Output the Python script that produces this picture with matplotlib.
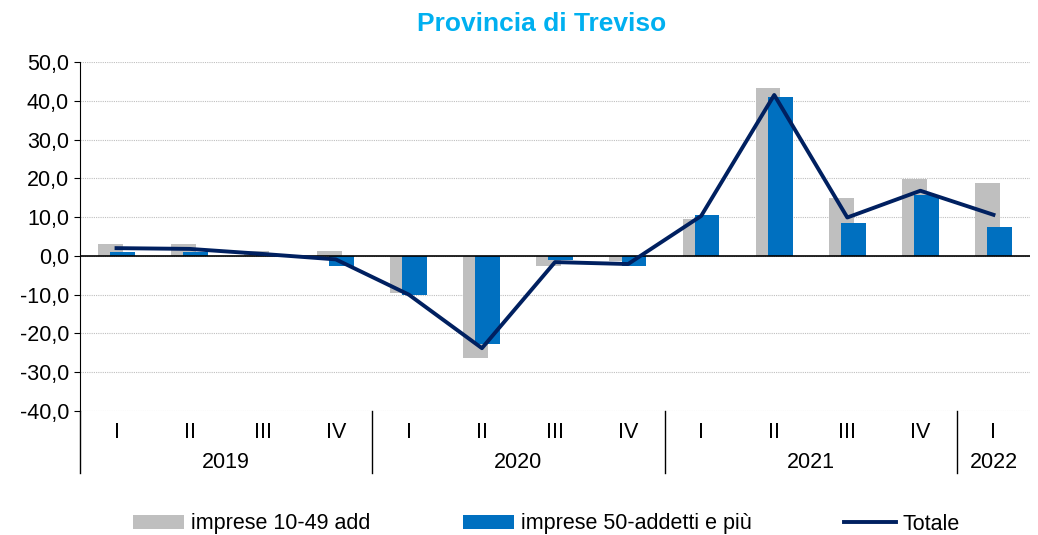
import matplotlib.pyplot as plt
import numpy as np

plt.rcParams['font.family'] = ['Liberation Sans', 'DejaVu Sans']

quarters = ['I', 'II', 'III', 'IV', 'I', 'II', 'III', 'IV', 'I', 'II', 'III', 'IV', 'I']
years = ['2019', '2020', '2021', '2022']
year_spans = [(0, 3), (4, 7), (8, 11), (12, 12)]
small = [3.0, 3.1, 1.2, 1.3, -9.5, -26.4, -2.7, -1.3, 9.5, 43.3, 15.0, 19.9, 18.7]
large = [1.0, 1.0, 0.2, -2.7, -10.2, -22.8, -1.0, -2.5, 10.5, 41.0, 8.5, 15.7, 7.5]
totale = [2.0, 1.8, 0.5, -0.9, -10.0, -23.8, -1.6, -2.1, 10.3, 41.5, 9.9, 16.8, 10.6]

x = np.arange(len(quarters))
fig = plt.figure(figsize=(10.38, 5.35), dpi=100)
ax = fig.add_axes([80 / 1038, 1 - 411 / 535, 950 / 1038, 349 / 535])

b1 = ax.bar(x - 0.085, small, width=0.34, color='#BFBFBF', label='imprese 10-49 add', zorder=2)
b2 = ax.bar(x + 0.08, large, width=0.34, color='#0070C0', label='imprese 50-addetti e più', zorder=3)
l1, = ax.plot(x, totale, color='#002060', lw=2.8, label='Totale', zorder=4)

ax.set_ylim(-40, 50)
ax.set_xlim(-0.5, len(quarters) - 0.5)
ax.set_yticks(np.arange(-40, 51, 10))
ax.set_yticklabels([f'{v:.1f}'.replace('.', ',') for v in np.arange(-40, 51, 10)], fontsize=15.5)
ax.yaxis.grid(True, color='#BFBFBF', ls=(0, (1, 1)), lw=0.8)
ax.set_axisbelow(True)
ax.axhline(0, color='black', lw=1.2, zorder=3)
for s in ['top', 'right', 'bottom']:
    ax.spines[s].set_visible(False)
ax.tick_params(axis='y', length=4, pad=4)
ax.set_xticks([])

# category labels
trans = ax.get_xaxis_transform()
for i, q in enumerate(quarters):
    ax.text(i, -0.062, q, transform=trans, ha='center', va='center', fontsize=15.5)
for y, (a, b) in zip(years, year_spans):
    ax.text((a + b) / 2, -0.147, y, transform=trans, ha='center', va='center', fontsize=15.5)
sep_bottom = -(473 - 411) / 349
ax.plot([-0.5, -0.5], [0, sep_bottom], transform=trans, color='black', lw=1, clip_on=False)
for a, b in year_spans[:-1]:
    ax.plot([b + 0.5, b + 0.5], [0, sep_bottom], transform=trans, color='black', lw=1, clip_on=False)

fig.text(0.522, 1 - 24 / 535, 'Provincia di Treviso', ha='center', va='center',
         fontsize=19, fontweight='bold', color='#00B0F0')

fig.legend([b1, b2, l1], ['imprese 10-49 add', 'imprese 50-addetti e più', 'Totale'],
           loc='center', bbox_to_anchor=(0.526, 1 - 524 / 535), ncol=3, frameon=False,
           fontsize=15.5, handlelength=2.4, handleheight=0.6, columnspacing=4.3, handletextpad=0.3)

fig.savefig('out.png', dpi=100)
